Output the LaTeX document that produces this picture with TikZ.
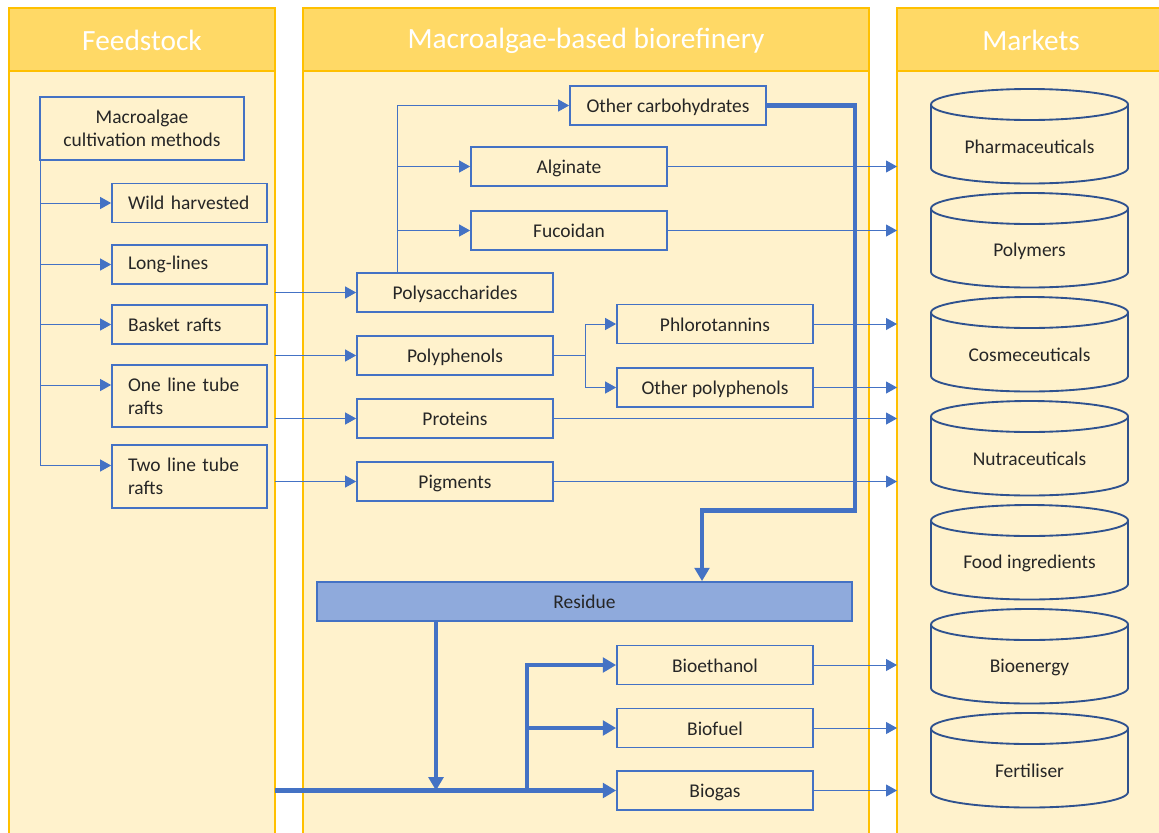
\documentclass[tikz,border=0pt]{standalone}
\usepackage{fontspec}
\setmainfont{Carlito}
\usetikzlibrary{arrows.meta,calc}
\definecolor{hdr}{HTML}{FFD966}
\definecolor{pane}{HTML}{FFF2CC}
\definecolor{rim}{HTML}{FFC000}
\definecolor{lnk}{HTML}{4472C4}
\definecolor{res}{HTML}{8FAADC}
\definecolor{cyl}{HTML}{2F528F}
\definecolor{ink}{HTML}{262626}
\tikzset{
	boxbase/.style={draw=lnk,line width=1.3pt,fill=pane,text=ink,minimum width=147pt,minimum height=29.25pt,inner sep=0pt,font=\fontsize{14.6}{17.3}\selectfont},
	box/.style={boxbase,text height=13.5pt,text depth=2.5pt},
	fbox/.style={boxbase,minimum width=116.25pt,text width=92.25pt,inner xsep=12pt,align=left},
	hdrtxt/.style={text=white,font=\fontsize{22}{26}\selectfont},
	mtxt/.style={text=ink,font=\fontsize{14.6}{17.3}\selectfont},
	arr/.style={draw=lnk,line width=0.75pt,-{Triangle[length=8.25pt,width=9pt]}},
	bigarr/.style={draw=lnk,line width=3.4pt,-{Triangle[length=10pt,width=11pt]}},
	cylline/.style={draw=cyl,line width=1.4pt},
}
\begin{document}
\begin{tikzpicture}[x=0.75pt,y=-0.75pt]
	\useasboundingbox (0,0) rectangle (1159,832);
	\clip (0,0) rectangle (1159,832);
	\foreach \l/\r in {9/275,303/869,897/1165} {
		\draw[rim,fill=pane,line width=1.2pt] (\l,71) rectangle (\r,845);
		\draw[rim,fill=hdr,line width=1.2pt] (\l,8) rectangle (\r,71);
	}
	\node[hdrtxt] (fshd) at (142,40) {Feedstock};
	\node[hdrtxt] (brhd) at (586,41) {Macroalgae-based biorefinery};
	\node[hdrtxt] (mkhd) at (1031,40) {Markets};
	\coordinate (fsedge) at (275,0);
	\coordinate (mktedge) at (897,0);

	\node[boxbase,minimum width=153pt,minimum height=47.25pt,align=center] (meth) at (142,128.5) {Macroalgae\\cultivation methods};
	\node[fbox] (wild) at (189.5,203) {Wild harvested};
	\node[fbox] (long) at (189.5,264.5) {Long-lines};
	\node[fbox] (bask) at (189.5,324.5) {Basket rafts};
	\node[fbox,minimum height=46.5pt] (one) at (189.5,396) {One line tube rafts};
	\node[fbox,minimum height=47.25pt] (two) at (189.5,476.5) {Two line tube rafts};
	\coordinate (mtrunk) at ($(meth.south west)+(1,0)$);
	\foreach \n in {wild,long,bask} \draw[arr] (mtrunk) |- (\n.west);
	\foreach \n in {one,two} \draw[arr] (mtrunk) |- ([yshift=8.25pt]\n.west);

	\node[box] (othc) at (668,105.5) {Other carbohydrates};
	\node[box] (algi) at (569,166.5) {Alginate};
	\node[box] (fuco) at (569,230.5) {Fucoidan};
	\node[box] (polys) at (455,292.5) {Polysaccharides};
	\node[box] (polyp) at (455,355.5) {Polyphenols};
	\node[box] (prot) at (455,418.5) {Proteins};
	\node[box] (pigm) at (455,481.5) {Pigments};
	\node[box] (phlo) at (715,324) {Phlorotannins};
	\node[box] (othp) at (715,387.5) {Other polyphenols};
	\node[box,fill=res,minimum width=401.25pt] (resid) at (584.5,601.5) {Residue};
	\node[box] (bioe) at (715,665) {Bioethanol};
	\node[box] (biof) at (715,728) {Biofuel};
	\node[box] (biog) at (715,790.5) {Biogas};

	\foreach \n in {polys,polyp,prot,pigm} \draw[arr] (fsedge |- \n.west) -- (\n.west);
	\coordinate (ptrunk) at ($(polys.north west)+(41,0)$);
	\foreach \n in {othc,algi,fuco} \draw[arr] (ptrunk) |- (\n.west);
	\coordinate (psplit) at ($(polyp.east)+(32,0)$);
	\draw[lnk,line width=0.75pt] (polyp.east) -- (psplit);
	\foreach \n in {phlo,othp} \draw[arr] (psplit) |- (\n.west);
	\foreach \n in {algi,fuco,phlo,othp,prot,pigm,bioe,biof,biog} \draw[arr] (\n.east) -- (\n.east -| mktedge);

	\draw[bigarr] (othc.east) -- ++(88,0) -- ++(0,405) -| ($(resid.north)+(117.5,0)$);
	\coordinate (rdrop) at ($(resid.south)+(-148.5,0)$);
	\draw[bigarr] (rdrop) -- (rdrop |- biog.west);
	\draw[bigarr] (fsedge |- biog.west) -- (biog.west);
	\coordinate (bsplit) at ($(biog.west)+(-89,0)$);
	\draw[bigarr] (bsplit) |- (bioe.west);
	\draw[bigarr] (bsplit) |- (biof.west);

	\foreach \t/\lab [count=\i] in {89/Pharmaceuticals,193/Polymers,297/Cosmeceuticals,401/Nutraceuticals,505/Food ingredients,609/Bioenergy,713/Fertiliser} {
		\draw[cylline] (931,\t+15.5) -- (931,\t+79) arc[start angle=180,end angle=0,x radius=98.5,y radius=15.5] -- (1128,\t+15.5);
		\draw[cylline] (1029.5,\t+15.5) ellipse[x radius=98.5,y radius=15.5];
		\node[mtxt] (mkt\i) at (1029.5,\t+58) {\lab};
	}
\end{tikzpicture}
\end{document}
